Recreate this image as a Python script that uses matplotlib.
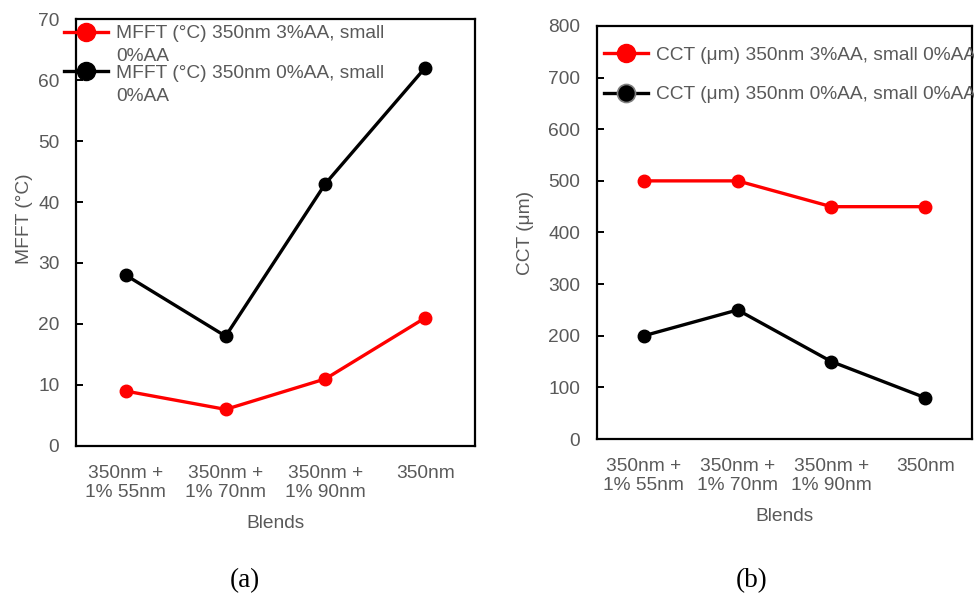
import matplotlib.pyplot as plt
from matplotlib.lines import Line2D
from matplotlib.transforms import ScaledTranslation

# Data
blends = ["350nm +\n1% 55nm", "350nm +\n1% 70nm", "350nm +\n1% 90nm", "350nm"]
mfft_3aa = [9, 6, 11, 21]
mfft_0aa = [28, 18, 43, 62]
cct_3aa = [500, 500, 450, 450]
cct_0aa = [200, 250, 150, 80]

mfft_labels = ["MFFT (°C) 350nm 3%AA, small", "MFFT (°C) 350nm 0%AA, small"]
mfft_label_tail = "0%AA"
cct_labels = ["CCT (μm) 350nm 3%AA, small 0%AA", "CCT (μm) 350nm 0%AA, small 0%AA"]

GRAY = "#595959"
RED = "#ff0000"
BLACK = "#000000"
FS = 13.8

plt.rcParams["font.family"] = ["Liberation Sans", "DejaVu Sans"]

fig = plt.figure(figsize=(9.74, 5.96), dpi=100)
ax1 = fig.add_axes([0.078, 0.2517, 0.4097, 0.7164])
ax2 = fig.add_axes([0.6129, 0.2634, 0.3851, 0.6930])


def style_axes(ax, ymax, ystep):
    x = range(len(blends))
    ax.set_xlim(-0.5, len(blends) - 0.5)
    ax.set_ylim(0, ymax)
    ax.set_yticks(range(0, ymax + 1, ystep))
    ax.set_xticks(list(x))
    ax.set_xticklabels(blends, fontsize=FS, color=GRAY, linespacing=1.15)
    for s in ax.spines.values():
        s.set_linewidth(1.6)
        s.set_color("black")
    ax.tick_params(axis="y", direction="in", length=5, width=1.4,
                   labelsize=FS, labelcolor=GRAY, pad=12)
    ax.tick_params(axis="x", length=0, pad=14)
    ax.set_xlabel("Blends", fontsize=FS, color=GRAY, labelpad=10)


def draw(ax, s_red, s_black):
    x = range(len(blends))
    ax.plot(x, s_black, color=BLACK, lw=2.4, marker="o", ms=9, zorder=3)
    ax.plot(x, s_red, color=RED, lw=2.4, marker="o", ms=9, zorder=3)


draw(ax1, mfft_3aa, mfft_0aa)
style_axes(ax1, 70, 10)
ax1.set_ylabel("MFFT (°C)", fontsize=FS, color=GRAY)
ax1.yaxis.set_label_coords(-0.108, 0.532)

draw(ax2, cct_3aa, cct_0aa)
style_axes(ax2, 800, 100)
ax2.set_ylabel("CCT (μm)", fontsize=FS, color=GRAY, labelpad=10)

h_red = Line2D([], [], color=RED, lw=2.4, marker="o", ms=13)
h_blk = Line2D([], [], color=BLACK, lw=2.4, marker="o", ms=13)
h_blk2 = Line2D([], [], color=BLACK, lw=2.4, marker="o", ms=13,
                markeredgecolor="#808080", markeredgewidth=1.2)

leg1 = fig.legend([h_red, h_blk], mfft_labels, loc="upper left",
                  bbox_to_anchor=(0.058, 0.971), frameon=False,
                  fontsize=FS, handlelength=2.3, handletextpad=0.4,
                  labelspacing=1.15, borderaxespad=0)
for t in leg1.get_texts():
    t.set_color(GRAY)

leg2 = fig.legend([h_red, h_blk2], cct_labels, loc="upper left",
                  bbox_to_anchor=(0.612, 0.935), frameon=False,
                  fontsize=FS, handlelength=2.3, handletextpad=0.4,
                  labelspacing=1.15, borderaxespad=0)
for t in leg2.get_texts():
    t.set_color(GRAY)

# wrapped second line of each MFFT legend entry, placed under its label
fig.canvas.draw()
inv = fig.transFigure.inverted()
for t in leg1.get_texts():
    bb = t.get_window_extent()
    x0, y0 = inv.transform((bb.x0, bb.y0))
    fig.text(x0, y0, mfft_label_tail, fontsize=FS, color=GRAY,
             ha="left", va="top",
             transform=fig.transFigure + ScaledTranslation(0, -6 / 100, fig.dpi_scale_trans))

fig.text(0.2515, 0.025, "(a)", family=["Liberation Serif", "DejaVu Serif"],
         fontsize=19.5, ha="center", va="center")
fig.text(0.772, 0.025, "(b)", family=["Liberation Serif", "DejaVu Serif"],
         fontsize=19.5, ha="center", va="center")

fig.savefig("out.png", dpi=100)
